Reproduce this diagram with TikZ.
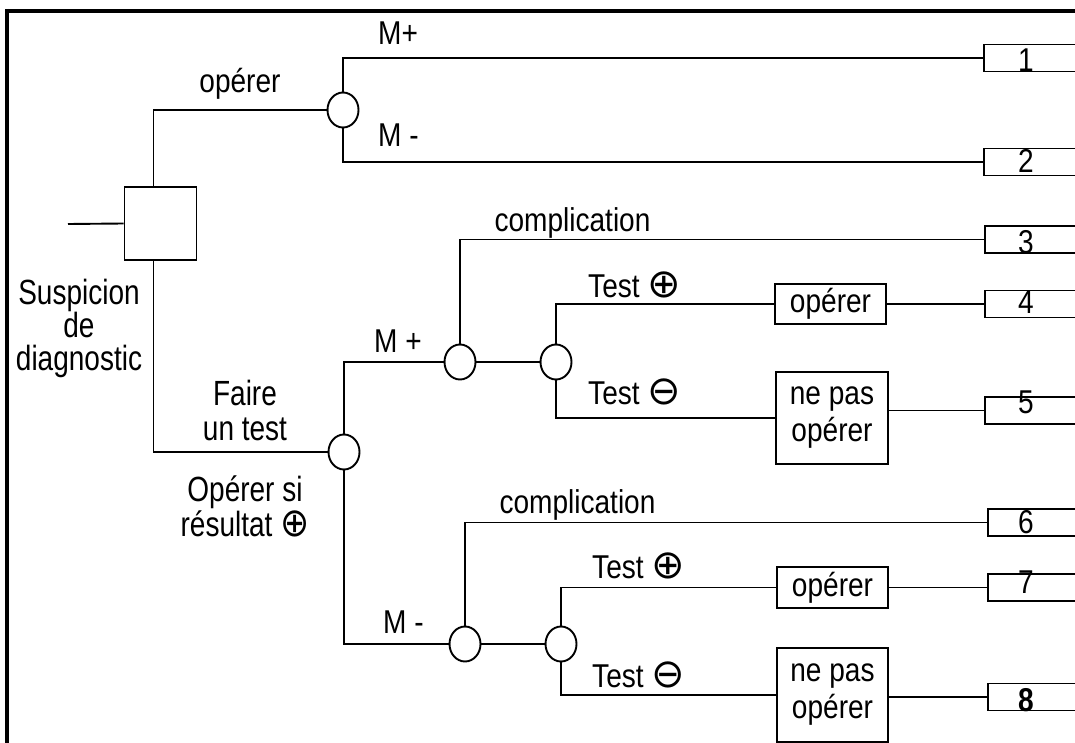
\documentclass[tikz,border=0pt]{standalone}
\usepackage{fontspec}
\setmainfont[FakeStretch=0.85]{Liberation Sans}
\newfontfamily\tallfam[FakeStretch=0.8]{Liberation Sans}
\newfontfamily\symfam{DejaVu Sans}
\newfontfamily\symtall[FakeStretch=0.87]{DejaVu Sans}
\usetikzlibrary{shapes.geometric}
\lineskiplimit=-100pt
\newcommand\cplus{{\symfam\fontsize{40}{30}\selectfont ⊕}}
\newcommand\cminus{{\symfam\fontsize{40}{30}\selectfont ⊖}}
\newcommand\cplustall{{\symtall\fontsize{40}{30}\selectfont ⊕}}
\tikzset{
  ln/.style={line width=1.9pt},
  frame/.style={line width=4pt},
  chance/.style={ellipse, draw, line width=1.9pt, minimum width=31pt, minimum height=35pt, inner sep=0pt, fill=white},
  decision/.style={rectangle, draw, line width=1.9pt, minimum width=72pt, minimum height=73pt, inner sep=0pt},
  outbox/.style={rectangle, draw, line width=1.9pt, minimum width=110pt, minimum height=27pt, anchor=west, inner sep=0pt},
  actbox/.style={rectangle, draw, line width=1.9pt, inner sep=0pt, align=center, font=\fontsize{33}{37}\selectfont},
  lab/.style={font=\fontsize{33}{35}\selectfont, inner sep=0pt, anchor=base},
  labw/.style={font=\fontsize{33}{35}\selectfont, inner sep=0pt, anchor=base west},
  tallA/.style={inner sep=0pt, font=\tallfam\fontsize{35}{33}\selectfont},
  tallB/.style={inner sep=0pt, font=\tallfam\fontsize{35}{35}\selectfont},
}
\begin{document}
\begin{tikzpicture}[x=1pt,y=-1pt]
\useasboundingbox (0,0) rectangle (1075,743);
\clip (0,0) rectangle (1075,743);
% frame
\draw[frame] (5,11) -- (1080,11);
\draw[frame] (7,9) -- (7,750);
% decision node
\node[decision] (sq) at (160.5,223.5) {};
\coordinate (in) at (68,224);
% chance nodes
\node[chance] (c1) at (343,110) {};
\node[chance] (c2) at (344,452) {};
\node[chance] (c3) at (460,362) {};
\node[chance] (c4) at (556,362) {};
\node[chance] (c5) at (465,644) {};
\node[chance] (c6) at (561,644) {};
% action boxes
\node[actbox, minimum width=111pt, minimum height=40pt] (op1) at (830.5,304) {opérer};
\node[actbox, minimum width=112pt, minimum height=92pt] (np1) at (832,418) {ne pas\\opérer};
\node[actbox, minimum width=111pt, minimum height=41pt] (op2) at (832.5,587.5) {opérer};
\node[actbox, minimum width=111pt, minimum height=94pt] (np2) at (832.5,695) {ne pas\\opérer};
% outcome boxes
\node[outbox] (o1) at (983,58) {};
\node[outbox] (o2) at (983,162) {};
\node[outbox] (o3) at (984,239.5) {};
\node[outbox] (o4) at (984,304) {};
\node[outbox] (o5) at (984,410.5) {};
\node[outbox] (o6) at (987,522.5) {};
\node[outbox] (o7) at (987,587.5) {};
\node[outbox] (o8) at (987,697) {};
\node[lab] (n1) at (1026,72) {1};
\node[lab] (n2) at (1026,173) {2};
\node[lab] (n3) at (1026,253) {3};
\node[lab] (n4) at (1026,313) {4};
\node[lab] (n5) at (1026,413) {5};
\node[lab] (n6) at (1026,533) {6};
\node[lab] (n7) at (1026,593) {7};
\node[lab] (n8) at (1026,711) {\textbf{8}};
% connectors
\draw[ln] (in) -- (sq.west);
\draw[ln] ([xshift=-7pt]sq.north) |- (c1.west);
\draw[ln] ([xshift=-7pt]sq.south) |- (c2.west);
\draw[ln] (c1.north) |- (o1.west);
\draw[ln] (c1.south) |- (o2.west);
\draw[ln] (c2.north) |- (c3.west);
\draw[ln] (c2.south) |- (c5.west);
\draw[ln] (c3.north) |- (o3.west);
\draw[ln] (c3.east) -- (c4.west);
\draw[ln] (c4.north) |- (op1.west);
\draw[ln] (c4.south) |- (np1.west);
\draw[ln] (op1.east) -- (o4.west);
\draw[ln] (np1.east |- o5.west) -- (o5.west);
\draw[ln] (c5.north) |- (o6.west);
\draw[ln] (c5.east) -- (c6.west);
\draw[ln] (c6.north) |- (op2.west);
\draw[ln] (c6.south) |- (np2.west);
\draw[ln] (op2.east) -- (o7.west);
\draw[ln] (np2.east |- o8.west) -- (o8.west);
% labels
\node[lab] (l1) at (240,93) {opérer};
\node[labw] (l2) at (378,45) {M+};
\node[labw] (l3) at (378,147) {M -};
\node[tallA, anchor=base, align=center] (l4) at (79,370) {Suspicion\\de\\diagnostic};
\node[tallB, anchor=base, align=center] (l5) at (245,440) {Faire\\un test};
\node[tallB, anchor=base, align=center] (l6) at (245,536) {Opérer si\\résultat \cplustall};
\node[labw] (l7) at (374,352) {M +};
\node[lab] (l8) at (572.5,232) {complication};
\node[labw] (l9) at (588,297) {Test \cplus};
\node[labw] (l10) at (588,404) {Test \cminus};
\node[labw] (l11) at (383,633) {M -};
\node[lab] (l12) at (577.5,513) {complication};
\node[labw] (l13) at (592,578) {Test \cplus};
\node[labw] (l14) at (592,687) {Test \cminus};
\end{tikzpicture}
\end{document}
